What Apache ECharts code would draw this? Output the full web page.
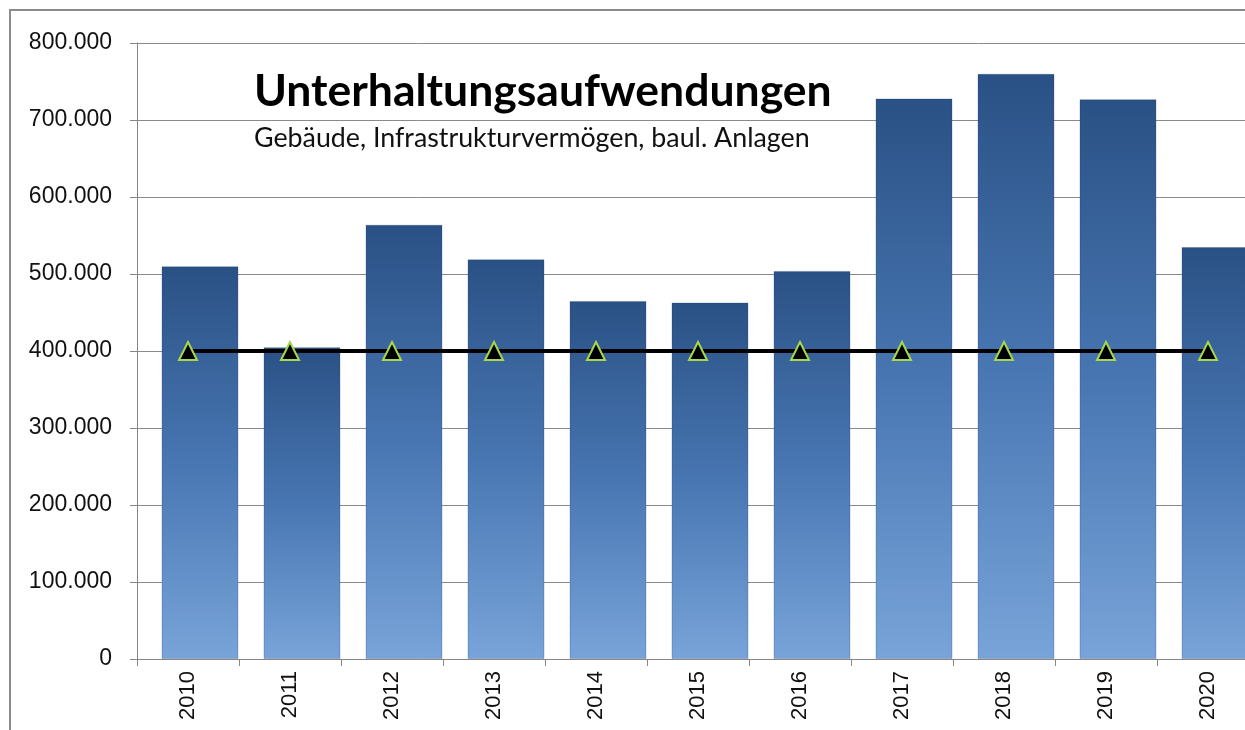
<!DOCTYPE html>
<html>
<head>
<meta charset="utf-8">
<script src="https://cdn.jsdelivr.net/npm/echarts@6/dist/echarts.min.js"></script>
<style>
  html, body { margin: 0; padding: 0; background: #fff; overflow: hidden; }
  /* the original chart is cut off on the right, so the canvas is a bit wider than the window */
  #chart { width: 1259px; height: 730px; }
</style>
</head>
<body>
<div id="chart"></div>
<script>
    // Unterhaltungsaufwendungen 2010-2020
    const years = ['2010', '2011', '2012', '2013', '2014', '2015', '2016', '2017', '2018', '2019', '2020'];
    const aufwendungen = [510000, 405000, 564000, 519000, 465000, 463000, 504000, 728000, 760000, 727000, 535000];
    const zielwert = [400000, 400000, 400000, 400000, 400000, 400000, 400000, 400000, 400000, 400000, 400000];

    const titleText = 'Unterhaltungsaufwendungen';
    const subText = 'Gebäude, Infrastrukturvermögen, baul. Anlagen';

    // 800000 -> "800.000"
    function fmt(v) {
        return String(v).replace(/\B(?=(\d{3})+(?!\d))/g, '.');
    }

    const myChart = echarts.init(document.getElementById('chart'));

    const option = {
        animation: false,
        backgroundColor: '#fff',
        textStyle: { fontFamily: 'Liberation Sans' },
        title: {
            text: titleText,
            subtext: subText,
            left: 249,
            top: 64,
            itemGap: 11,
            textStyle: {
                fontFamily: 'Lato',
                fontWeight: 'bold',
                fontSize: 44.5,
                color: '#000'
            },
            subtextStyle: {
                fontFamily: 'Lato',
                fontSize: 26.8,
                color: '#111'
            }
        },
        graphic: [
            {
                // outer chart frame (only top/left visible)
                type: 'rect',
                shape: { x: 10, y: 10, width: 1400, height: 900 },
                style: { fill: null, stroke: '#8c8c8c', lineWidth: 2 },
                silent: true,
                z: -1
            }
        ],
        grid: {
            left: 137,
            top: 43,
            bottom: 71,
            right: 0
        },
        xAxis: {
            type: 'category',
            data: years,
            boundaryGap: true,
            axisLine: { lineStyle: { color: '#868686', width: 1 } },
            axisTick: { show: true, length: 7, alignWithLabel: false, lineStyle: { color: '#868686' } },
            axisLabel: {
                rotate: 90,
                margin: 12,
                fontSize: 22,
                color: '#111',
                fontFamily: 'Liberation Sans'
            }
        },
        yAxis: {
            type: 'value',
            min: 0,
            max: 800000,
            interval: 100000,
            axisLine: { show: true, lineStyle: { color: '#868686', width: 1 } },
            axisTick: { show: true, length: 7, lineStyle: { color: '#868686' } },
            splitLine: { lineStyle: { color: '#8a8a8a', width: 1 } },
            axisLabel: {
                margin: 25,
                fontSize: 23,
                color: '#111',
                fontFamily: 'Liberation Sans',
                formatter: fmt
            }
        },
        series: [
            {
                // empty spacer so the columns sit right of the category centre
                type: 'bar',
                barWidth: 24,
                barGap: '0%',
                data: years.map(() => '-'),
                silent: true
            },
            {
                name: 'Aufwendungen',
                type: 'bar',
                barWidth: 77,
                data: aufwendungen,
                itemStyle: {
                    color: new echarts.graphic.LinearGradient(0, 0, 0, 1, [
                        { offset: 0, color: '#2a5185' },
                        { offset: 0.5, color: '#4876b2' },
                        { offset: 1, color: '#78a4d9' }
                    ]),
                    borderColor: 'rgba(30,60,100,0.25)',
                    borderWidth: 1
                }
            },
            {
                name: 'Zielwert',
                type: 'line',
                data: zielwert,
                symbol: 'triangle',
                symbolSize: 18,
                z: 5,
                lineStyle: { color: '#000', width: 4 },
                itemStyle: {
                    color: '#000',
                    borderColor: '#a6d84a',
                    borderWidth: 2
                }
            }
        ]
    };

    myChart.setOption(option);
</script>
</body>
</html>
